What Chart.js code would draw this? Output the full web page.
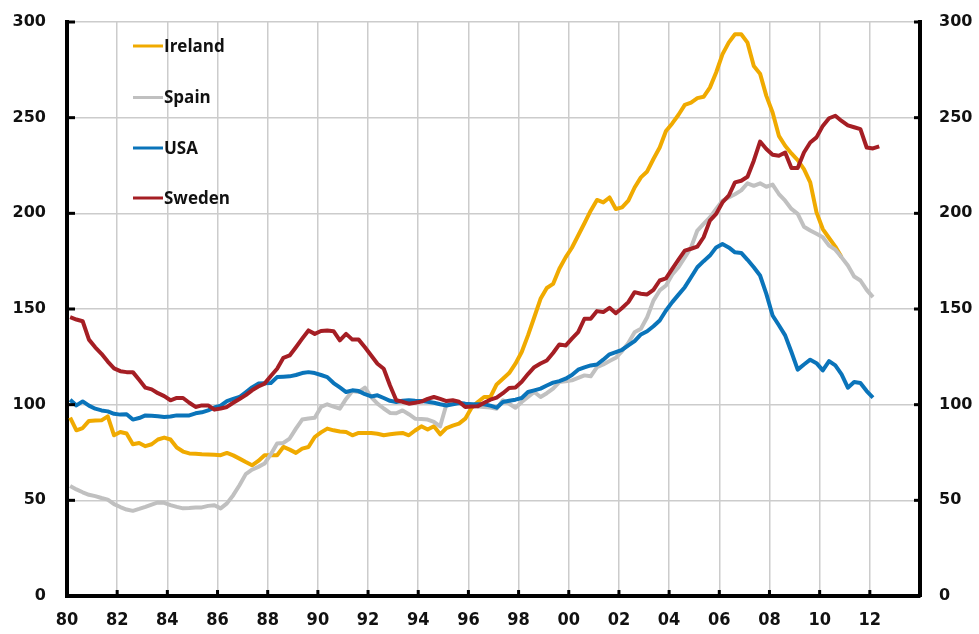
<!DOCTYPE html>
<html>
<head>
<meta charset="utf-8">
<script src="https://cdn.jsdelivr.net/npm/chart.js@4/dist/chart.umd.min.js"></script>
<style>
  html, body { margin: 0; padding: 0; background: #ffffff; }
  #wrap { width: 979px; height: 634px; position: relative; }
</style>
</head>
<body>
<div id="wrap"><canvas id="c" width="979" height="634"></canvas></div>
<script>
// ---- Data (quarterly index levels) ----
const seriesNames = ['Ireland', 'Spain', 'USA', 'Sweden'];
const seriesColors = ['#F0AA00', '#C0C0C0', '#0A74BA', '#A51E24'];

const ireland = [
  93.2, 86.6, 87.8, 91.5, 91.7, 91.8, 93.9, 84, 85.7, 84.9,
  79.3, 80, 78.3, 79.3, 81.8, 82.8, 81.8, 77.6, 75.5, 74.5,
  74.3, 74.1, 74, 73.8, 73.6, 74.8, 73.5, 71.8, 70, 68.3,
  70.6, 73.6, 73.6, 73.6, 77.9, 76.5, 74.8, 77, 77.9, 83.1,
  85.5, 87.5, 86.6, 86, 85.7, 84, 85.2, 85.2, 85.2, 84.8,
  84, 84.5, 84.9, 85.2, 84, 86.5, 88.7, 87, 88.7, 84.5,
  87.8, 89, 90.1, 92.7, 98.4, 101.4, 104, 104, 110.6, 113.5,
  116.5, 121.4, 127.5, 136.2, 145.7, 155.3, 161, 163.1, 171, 177,
  182, 188.4, 194.8, 201.4, 207, 205.7, 208.3, 202.3, 203.1, 206.6,
  213.5, 218.8, 221.9, 228.4, 234.4, 243, 247, 251.5, 256.7, 257.9,
  260.2, 260.9, 265.7, 273.6, 283.1, 289.2, 293.6, 293.6, 289.2, 277,
  273, 261.4, 252.7, 240.5, 235.3, 231.3, 227.8, 223.1, 216.2, 200.5,
  191.8, 187.1, 182.6, 177
];

const spain = [
  57.5, 55.7, 54.2, 52.9, 52.2, 51.2, 50.4, 48, 46.5, 45.2,
  44.5, 45.5, 46.6, 47.8, 48.9, 48.7, 47.5, 46.6, 45.8, 46,
  46.3, 46.3, 47.1, 47.4, 45.8, 48.4, 52.7, 57.9, 63.7, 66,
  67.5, 69.2, 74.1, 79.7, 80, 82.3, 87.5, 92.2, 92.8, 93.2,
  98.8, 100.2, 99, 97.9, 103, 107.1, 106.6, 108.9, 104, 100.5,
  98, 95.7, 95.5, 97, 95, 92.7, 92.5, 92.2, 91, 88.7,
  100.2, 100.5, 100.9, 100.5, 100.2, 99.1, 98.8, 98.5, 97.9, 102.3,
  100.5, 98.4, 101.4, 104, 106.6, 104, 106, 108.4, 111.8, 112.2,
  112.7, 114, 115.3, 114.8, 119.6, 121, 122.8, 124.5, 128, 132.2,
  137.9, 139.7, 145.7, 154.4, 159.7, 162.3, 168, 171.8, 177, 182.2,
  191, 194.5, 197.9, 202.3, 206.6, 208.3, 210, 212, 215.7, 214.4,
  215.7, 213.9, 215, 210.1, 206.6, 202.3, 199.7, 193, 191, 189.3,
  187.5, 183.1, 181, 177, 172.7, 167, 164.9, 160, 156.2
];

const usa = [
  102.6, 99.6, 101.7, 99.5, 97.9, 97, 96.5, 95.2, 94.8, 95,
  92.2, 93, 94.4, 94.2, 94, 93.6, 93.8, 94.4, 94.4, 94.4,
  95.5, 96, 97, 98.5, 99.5, 101.9, 103, 104, 106.5, 109,
  111, 111.2, 111.3, 114.4, 114.6, 114.8, 115.5, 116.5, 117, 116.5,
  115.5, 114.4, 111.3, 109, 106.6, 107.5, 107.1, 105.5, 104.3, 104.9,
  103.5, 102, 101.4, 102, 102.3, 102, 101.9, 101.5, 101, 100.2,
  99.6, 100.2, 100.9, 100.5, 100.2, 100.2, 100.2, 99.5, 98.4, 101.4,
  102, 102.6, 103.5, 106.6, 107.5, 108.4, 110, 111.5, 112.3, 113.6,
  115.5, 118.3, 119.5, 120.5, 121, 123.5, 126.3, 127.5, 128.7, 131,
  133.2, 136.7, 138.4, 141, 144, 149.2, 153.6, 157.5, 161.4, 166.6,
  171.8, 175, 177.9, 182.2, 184, 182.2, 179.6, 179.3, 175.7, 171.8,
  167.5, 157.9, 146.6, 141.5, 136.2, 127.5, 118.3, 121, 123.5, 121.7,
  117.9, 122.8, 120.5, 115.8, 108.9, 111.8, 111.3, 107.1, 103.7
];

const sweden = [
  145.7, 144.5, 143.6, 134, 130, 126.6, 122.5, 119, 117.5, 117,
  117, 113, 108.9, 108, 106, 104.5, 102.3, 103.5, 103.5, 101,
  98.8, 99.6, 99.6, 97.4, 98, 98.8, 101, 103, 105, 107.5,
  109.5, 111, 115, 118.8, 124.5, 125.7, 130, 134.5, 138.8, 137,
  138.5, 138.8, 138.4, 133.6, 137, 134, 134, 130, 125.7, 121.4,
  118.8, 110, 102.3, 101.5, 100.5, 101, 101.6, 103, 104, 103,
  101.9, 102.3, 101.5, 98.8, 99, 99.2, 101, 102.6, 103.7, 106,
  108.7, 109, 112, 116, 119.6, 121.5, 123.1, 127, 131.5, 130.9,
  134.5, 137.9, 144.9, 144.9, 148.9, 148.4, 150.6, 147.8, 150.5, 153.6,
  158.8, 158, 157.6, 160, 164.9, 166, 171, 175.8, 180.5, 181.5,
  182.6, 187.5, 196.2, 199.7, 205.7, 209.2, 216.2, 217, 219.1, 227.5,
  237.5, 233.6, 230.6, 230.1, 231.8, 223.7, 223.7, 231.8, 237, 239.7,
  245.7, 249.7, 251, 248.3, 246, 245, 244, 234.4, 233.9, 235
];

// Quarter categories, starting 1980Q1
const firstYear = 1980;
const quarters = [];
for (let i = 0; i < 131; i++) {
  quarters.push((firstYear + Math.floor(i / 4)) + 'Q' + (i % 4 + 1));
}

const xTickLabels = ['80','82','84','86','88','90','92','94','96','98','00','02','04','06','08','10','12'];
const yTickValues = [0, 50, 100, 150, 200, 250, 300];

// ---- Build chart ----
function quarterToX(q) {
  const y = parseInt(q.slice(0, 4), 10);
  const n = parseInt(q.slice(5), 10);
  return y + (n - 0.5) / 4; // mid-quarter
}
function toPoints(vals) {
  return vals.map((v, i) => ({ x: quarterToX(quarters[i]), y: v }));
}

const allSeries = [ireland, spain, usa, sweden];
const drawOrder = [3, 2, 1, 0]; // Sweden on top

const datasets = allSeries.map((vals, k) => ({
  label: seriesNames[k],
  data: toPoints(vals),
  borderColor: seriesColors[k],
  backgroundColor: seriesColors[k],
  borderWidth: 4,
  pointRadius: 0,
  pointHoverRadius: 0,
  tension: 0,
  fill: false,
  borderJoinStyle: 'round',
  borderCapStyle: 'butt',
  order: drawOrder[k]
}));

const innerTicks = {
  id: 'innerTicks',
  afterDraw(chart) {
    const ctx = chart.ctx;
    const a = chart.chartArea;
    const yl = chart.scales.y;
    const x = chart.scales.x;
    ctx.save();
    ctx.fillStyle = '#000';
    yTickValues.forEach(v => {
      const py = yl.getPixelForValue(v);
      ctx.fillRect(a.left, py - 1.5, 8, 3);
      ctx.fillRect(a.right - 6, py - 1.5, 6, 3);
    });
    for (let k = 0; k < xTickLabels.length; k++) {
      const px = x.getPixelForValue(firstYear + 2 * k);
      ctx.fillRect(px - 1.5, a.bottom - 6, 3, 6);
    }
    ctx.restore();
  }
};

const insideLegend = {
  id: 'insideLegend',
  afterDraw(chart) {
    const ctx = chart.ctx;
    ctx.save();
    const x0 = 133, x1 = 163;
    const ys = [46, 97.5, 148, 198];
    chart.data.datasets.forEach((ds, k) => {
      ctx.strokeStyle = ds.borderColor;
      ctx.lineWidth = 3;
      ctx.beginPath();
      ctx.moveTo(x0, ys[k]);
      ctx.lineTo(x1, ys[k]);
      ctx.stroke();
      ctx.fillStyle = '#111';
      ctx.font = 'bold 17px "Open Sans"';
      ctx.textBaseline = 'middle';
      ctx.textAlign = 'left';
      ctx.fillText(ds.label, x1 + 1, ys[k] + 1);
    });
    ctx.restore();
  }
};

const gridColor = '#cccccc';

function fixY(width) {
  return function (scale) {
    scale.width = width;
    scale.paddingTop = 0;
    scale.paddingBottom = 0;
  };
}

new Chart(document.getElementById('c'), {
  type: 'line',
  data: { datasets },
  options: {
    responsive: false,
    animation: false,
    devicePixelRatio: 1,
    layout: { padding: { top: 22, left: 0, right: 0, bottom: 0 } },
    plugins: {
      legend: { display: false },
      tooltip: { enabled: false },
      title: { display: false }
    },
    scales: {
      x: {
        type: 'linear',
        min: 1980,
        max: 2014,
        afterBuildTicks(scale) {
          scale.ticks = [];
          for (let v = 1980; v <= 2014; v += 2) scale.ticks.push({ value: v });
        },
        afterFit(scale) { scale.height = 38; scale.paddingLeft = 0; scale.paddingRight = 0; },
        grid: { color: gridColor, lineWidth: 1.5, drawTicks: false },
        border: { display: true, color: '#000', width: 4 },
        ticks: {
          autoSkip: false,
          maxRotation: 0,
          padding: 14,
          color: '#111',
          font: { family: '"DejaVu Sans Condensed", "DejaVu Sans"', weight: 'bold', size: 18 },
          callback(value) {
            const idx = Math.round((value - firstYear) / 2);
            return xTickLabels[idx] !== undefined ? xTickLabels[idx] : '';
          }
        }
      },
      y: {
        position: 'left',
        min: 0,
        max: 300,
        afterBuildTicks(scale) { scale.ticks = yTickValues.map(v => ({ value: v })); },
        afterFit: fixY(67),
        grid: { color: gridColor, lineWidth: 1.5, drawTicks: false },
        border: { display: true, color: '#000', width: 4 },
        ticks: {
          padding: 21,
          color: '#111',
          font: { family: '"DejaVu Sans"', weight: 'bold', size: 16 }
        }
      },
      y2: {
        position: 'right',
        min: 0,
        max: 300,
        afterBuildTicks(scale) { scale.ticks = yTickValues.map(v => ({ value: v })); },
        afterFit: fixY(59),
        grid: { display: false, drawTicks: false },
        border: { display: true, color: '#000', width: 4 },
        ticks: {
          padding: 19,
          color: '#111',
          font: { family: '"DejaVu Sans"', weight: 'bold', size: 16 }
        }
      }
    }
  },
  plugins: [innerTicks, insideLegend]
});
</script>
</body>
</html>
